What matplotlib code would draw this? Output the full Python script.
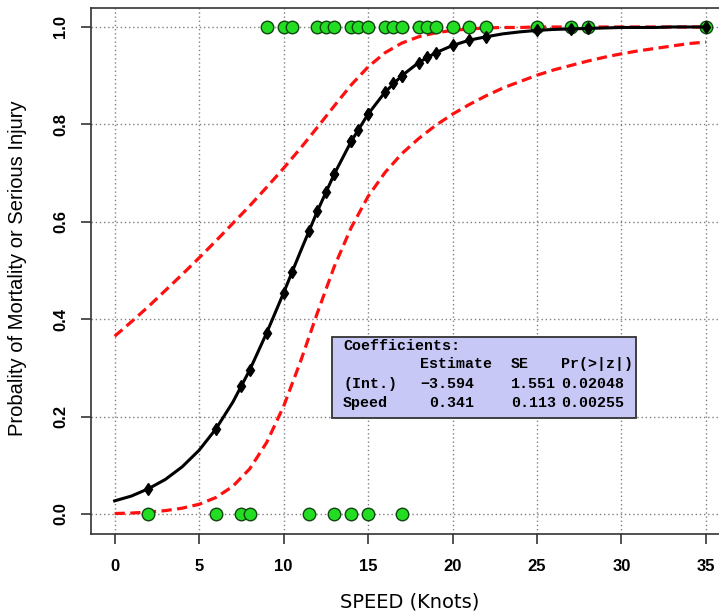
import matplotlib
matplotlib.use("Agg")
import matplotlib.pyplot as plt
from matplotlib.patches import Rectangle
import numpy as np

#======================= data =======================
# observed speeds, outcome 0 (bottom row) and 1 (top row)
speed_0 = [2, 6, 7.5, 8, 11.5, 13, 14, 15, 17]
speed_1 = [9, 10, 10.5, 12, 12.5, 13, 14, 14.4, 15, 16, 16.5, 17, 18, 18.5,
           19, 20, 21, 22, 25, 27, 28, 35]

# fitted probability at each observation (black markers)
fit_0 = [0.052, 0.175, 0.262, 0.296, 0.581, 0.698, 0.765, 0.821, 0.900]
fit_1 = [0.372, 0.454, 0.497, 0.622, 0.661, 0.698, 0.765, 0.789, 0.821, 0.866,
         0.884, 0.900, 0.927, 0.938, 0.947, 0.962, 0.973, 0.980, 0.993, 0.996,
         0.997, 1.000]

# fitted curve and 95% band, at speeds 0..35
grid_speed = list(range(0, 36))
fit_curve = [0.027, 0.037, 0.052, 0.071, 0.097, 0.131, 0.175, 0.230, 0.296, 0.372,
             0.454, 0.539, 0.622, 0.698, 0.765, 0.821, 0.866, 0.900, 0.927, 0.947,
             0.962, 0.973, 0.980, 0.986, 0.990, 0.993, 0.995, 0.996, 0.997, 0.998,
             0.999, 0.999, 0.999, 1.000, 1.000, 1.000]
lower_band = [0.001, 0.002, 0.004, 0.007, 0.012, 0.020, 0.034, 0.057, 0.093, 0.147,
              0.221, 0.313, 0.413, 0.508, 0.588, 0.652, 0.701, 0.740, 0.771, 0.798,
              0.821, 0.841, 0.859, 0.875, 0.888, 0.901, 0.912, 0.921, 0.930, 0.938,
              0.945, 0.951, 0.956, 0.961, 0.966, 0.969]
upper_band = [0.365, 0.395, 0.426, 0.459, 0.492, 0.526, 0.561, 0.597, 0.633, 0.671,
              0.710, 0.751, 0.794, 0.838, 0.881, 0.918, 0.947, 0.967, 0.980, 0.988,
              0.993, 0.996, 0.998, 0.999, 0.999, 1.000, 1.000, 1.000, 1.000, 1.000,
              1.000, 1.000, 1.000, 1.000, 1.000, 1.000]

x_ticks = [0, 5, 10, 15, 20, 25, 30, 35]
y_ticks = [0.0, 0.2, 0.4, 0.6, 0.8, 1.0]
y_tick_labels = ["0.0", "0.2", "0.4", "0.6", "0.8", "1.0"]

coef_header = ["Estimate", "SE", "Pr(>|z|)"]
coef_rows = [["(Int.)", "\u22123.594", "1.551", "0.02048"],
             ["Speed", "0.341", "0.113", "0.00255"]]
#==========================================================================

W, H = 719, 612
plt.rcParams['font.family'] = ['Liberation Sans', 'DejaVu Sans']

fig = plt.figure(figsize=(W / 100, H / 100), dpi=100)
ax = fig.add_axes([91 / W, 78.5 / H, 638.6 / W, 526 / H])
ax.set_xlim(-1.4, 36.4)
ax.set_ylim(-0.04, 1.04)

# grid
for xt in x_ticks:
    ax.axvline(xt, color='#808080', lw=1, ls=(0, (1, 2)), zorder=0)
for yt in y_ticks:
    ax.axhline(yt, color='#808080', lw=1, ls=(0, (1, 2)), zorder=0)

# confidence band
ax.plot(grid_speed, lower_band, color='#ff1010', lw=2.3, dashes=(3.2, 1.7), zorder=2)
ax.plot(grid_speed, upper_band, color='#ff1010', lw=2.3, dashes=(3.2, 1.7), zorder=2)

# observations
ax.plot(speed_0, [0] * len(speed_0), 'o', ms=9, mfc='#22dd22', mec='#114411', mew=1.0, zorder=3)
ax.plot(speed_1, [1] * len(speed_1), 'o', ms=9, mfc='#22dd22', mec='#114411', mew=1.0, zorder=3)

# fitted curve
ax.plot(grid_speed, fit_curve, color='black', lw=2.2, zorder=4)
ax.plot(speed_0 + speed_1, fit_0 + fit_1, 'd', ms=6.5, color='black', zorder=5)

ax.set_xticks(x_ticks)
ax.set_xticklabels([str(t) for t in x_ticks])
ax.set_yticks(y_ticks)
ax.set_yticklabels(y_tick_labels, rotation=90, va='center')
tick_font = dict(family=['Liberation Sans Narrow', 'Liberation Sans', 'DejaVu Sans'],
                 weight='bold', size=12)
for lab in ax.get_xticklabels() + ax.get_yticklabels():
    lab.set_fontproperties(matplotlib.font_manager.FontProperties(**tick_font))
ax.tick_params(axis='both', length=7.5, width=1.3, color='#444444', direction='out')
ax.tick_params(axis='x', pad=11)
ax.tick_params(axis='y', pad=9)
for sp in ax.spines.values():
    sp.set_color('#333333')
    sp.set_linewidth(1.2)

fig.text(410 / W, 1 - 602 / H, "SPEED (Knots)", ha='center', va='center',
         family='DejaVu Sans', fontsize=14)
fig.text(18 / W, 1 - 268 / H, "Probality of Mortality or Serious Injury",
         ha='center', va='center', rotation=90, fontsize=14.5)

# coefficient box
box = Rectangle((332 / W, 1 - 418 / H), (636 - 332) / W, (418 - 337) / H,
                transform=fig.transFigure, facecolor='#c8c8f6', edgecolor='#333333',
                lw=1.3, zorder=10)
fig.patches.append(box)
mono = dict(family='Liberation Mono', weight='bold', fontsize=10.8, va='center', ha='left', zorder=11)
fig.text(343 / W, 1 - 346 / H, "Coefficients:", **mono)
col_x = [343, 420, 511, 561]
for s, cx in zip(coef_header, col_x[1:]):
    fig.text(cx / W, 1 - 364 / H, s, **mono)
row_y = [384, 403]
for row, ry in zip(coef_rows, row_y):
    for j, s in enumerate(row):
        cx = col_x[j]
        if row[0] == "Speed" and j == 1:
            cx = 429
        fig.text(cx / W, 1 - ry / H, s, **mono)

fig.savefig("out.png", dpi=100)
